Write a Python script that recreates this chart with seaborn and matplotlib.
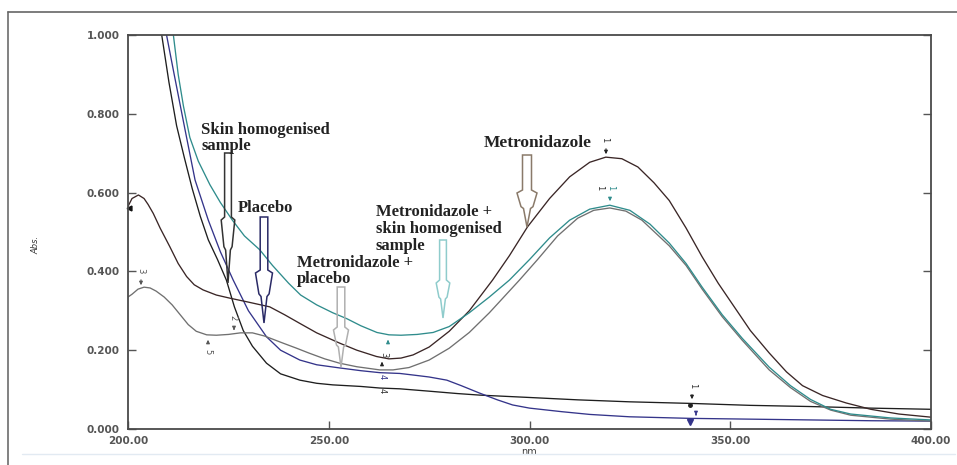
import matplotlib
matplotlib.use("Agg")
import matplotlib.pyplot as plt
import seaborn as sns
import pandas as pd
from matplotlib.patches import Polygon
from matplotlib.lines import Line2D

# ---------------- data ----------------
metro_nm = [200, 201, 202.6, 204, 205, 206.3, 208, 210.4, 212.5, 214.6, 216.5, 218.7, 222,
            225.4, 230, 235.3, 239, 242.8, 247, 252.7, 257, 261.9, 265, 268, 271, 275, 280,
            285, 290.8, 295, 299.5, 305, 310, 315, 319, 323, 327, 331, 334.8, 339, 343, 347,
            351, 355, 359.7, 364, 368, 373, 378.9, 385, 392, 400]
metro_abs = [0.565, 0.585, 0.594, 0.585, 0.57, 0.547, 0.51, 0.463, 0.42, 0.387, 0.366, 0.353,
             0.34, 0.332, 0.322, 0.31, 0.29, 0.268, 0.244, 0.218, 0.2, 0.184, 0.178, 0.18,
             0.188, 0.208, 0.248, 0.30, 0.378, 0.44, 0.513, 0.585, 0.64, 0.677, 0.69, 0.686,
             0.665, 0.625, 0.58, 0.51, 0.437, 0.37, 0.31, 0.25, 0.193, 0.145, 0.11, 0.085,
             0.066, 0.05, 0.038, 0.03]

metskin_nm = [210.3, 211.3, 212.5, 213.8, 215.4, 217.5, 220.4, 223, 226, 229, 232.8, 236, 240,
              243, 247, 251, 254.5, 258, 262, 265, 268, 272, 276, 280, 285, 290, 295, 300,
              305, 310, 315, 320, 325, 330, 334.8, 339, 343, 348, 353, 359.7, 365, 370, 375,
              380, 390, 400]
metskin_abs = [1.06, 1.0, 0.9, 0.82, 0.74, 0.68, 0.62, 0.575, 0.53, 0.49, 0.455, 0.415, 0.37,
               0.34, 0.315, 0.295, 0.28, 0.262, 0.245, 0.239, 0.238, 0.24, 0.245, 0.26, 0.295,
               0.335, 0.378, 0.43, 0.485, 0.53, 0.558, 0.568, 0.555, 0.52, 0.472, 0.42, 0.36,
               0.29, 0.23, 0.157, 0.11, 0.075, 0.05, 0.038, 0.028, 0.023]

metplac_nm = [200, 201, 202.5, 204, 205.5, 207, 209, 211, 213, 215, 217, 219.6, 222, 225, 228,
              231, 234, 238.6, 242, 245, 249, 252.7, 257, 262.7, 266, 270, 275, 280, 285, 290,
              297.5, 302, 307, 312, 316, 320, 324, 328, 334.8, 339, 343, 348, 353, 359.7, 365,
              370, 375, 380, 390, 400]
metplac_abs = [0.335, 0.342, 0.355, 0.36, 0.358, 0.35, 0.335, 0.315, 0.29, 0.265, 0.248, 0.239,
               0.238, 0.24, 0.244, 0.244, 0.236, 0.218, 0.205, 0.193, 0.178, 0.167, 0.158,
               0.15, 0.15, 0.156, 0.175, 0.205, 0.245, 0.295, 0.378, 0.43, 0.49, 0.535, 0.555,
               0.561, 0.553, 0.53, 0.465, 0.415, 0.355, 0.285, 0.225, 0.15, 0.105, 0.07, 0.048,
               0.035, 0.025, 0.02]

skin_nm = [207.6, 208.4, 210.2, 212.1, 214, 216, 218, 220, 222.3, 224.5, 226.5, 228.7, 231,
           234.5, 238, 242.8, 247, 251, 258, 262.7, 267.7, 275, 282, 287.6, 300, 312, 324.9,
           340, 355, 370, 385, 400]
skin_abs = [1.05, 1.0, 0.88, 0.77, 0.69, 0.61, 0.54, 0.48, 0.43, 0.378, 0.31, 0.25, 0.21,
            0.167, 0.14, 0.124, 0.116, 0.112, 0.108, 0.104, 0.102, 0.096, 0.09, 0.086, 0.08,
            0.074, 0.069, 0.065, 0.06, 0.057, 0.053, 0.05]

placebo_nm = [208.8, 209.6, 211.5, 214.2, 216.7, 220, 223, 226.2, 230, 234.5, 238, 242.8, 247,
              252.7, 258, 262.7, 267.7, 271, 275, 279.4, 283, 287.6, 292, 295.8, 300, 308,
              315, 324.9, 340, 355, 370, 385, 400]
placebo_abs = [1.05, 1.0, 0.9, 0.76, 0.632, 0.53, 0.45, 0.378, 0.30, 0.234, 0.2, 0.175, 0.163,
               0.155, 0.148, 0.143, 0.141, 0.137, 0.132, 0.124, 0.11, 0.091, 0.074, 0.061,
               0.053, 0.044, 0.037, 0.031, 0.027, 0.025, 0.023, 0.021, 0.02]

x_ticks = [200, 250, 300, 350, 400]
x_tick_labels = ["200.00", "250.00", "300.00", "350.00", "400.00"]
y_ticks = [0.0, 0.2, 0.4, 0.6, 0.8, 1.0]
y_tick_labels = ["0.000", "0.200", "0.400", "0.600", "0.800", "1.000"]

series = [
    ("Skin homogenised sample", skin_nm, skin_abs, "#1e1e1e"),
    ("Placebo", placebo_nm, placebo_abs, "#34348a"),
    ("Metronidazole + placebo", metplac_nm, metplac_abs, "#707070"),
    ("Metronidazole", metro_nm, metro_abs, "#3a2626"),
    ("Metronidazole + skin homogenised sample", metskin_nm, metskin_abs, "#2f8c8c"),
]

# ---------------- figure ----------------
W, H = 957, 465
sns.set_style("white")
plt.rcParams['font.family'] = ['DejaVu Sans']

fig = plt.figure(figsize=(W / 100, H / 100), dpi=100)
fig.patch.set_facecolor("white")
ax = fig.add_axes([128 / W, 1 - 429 / H, (931 - 128) / W, (429 - 35) / H])

for name, xs, ys, col in series:
    df = pd.DataFrame({"nm": xs, "Abs.": ys})
    sns.lineplot(data=df, x="nm", y="Abs.", ax=ax, color=col, lw=0.95,
                 sort=False, estimator=None, legend=False)

ax.set_xlim(200, 400)
ax.set_ylim(0, 1)
ax.set_xticks(x_ticks)
ax.set_xticklabels(x_tick_labels)
ax.set_yticks(y_ticks)
ax.set_yticklabels(y_tick_labels)
ax.tick_params(axis="both", direction="in", length=6, width=1.0, color="#555555",
               labelsize=7.5, labelcolor="#555555")
ax.tick_params(axis="y", left=True, right=True, pad=6)
ax.tick_params(axis="x", bottom=True, top=False, pad=5)
for lab in ax.get_xticklabels() + ax.get_yticklabels():
    lab.set_fontweight("bold")
for sp in ax.spines.values():
    sp.set_color("#4a4a4a")
    sp.set_linewidth(1.3)
ax.set_xlabel("nm", fontsize=7, color="#444444", labelpad=1)
ax.set_ylabel("")
fig.text(36 / W, 1 - 245 / H, "Abs.", rotation=90, fontsize=6, color="#333333",
         ha="center", va="center", fontstyle="italic")

# outer frame lines
fig.add_artist(Line2D([8 / W, 8 / W], [1 - 12 / H, 0], color="#777777", lw=1.3))
fig.add_artist(Line2D([8 / W, 1], [1 - 12 / H, 1 - 12 / H], color="#666666", lw=1.2))
fig.add_artist(Line2D([22 / W, 955 / W], [1 - 454 / H, 1 - 454 / H], color="#e2eaf2", lw=1.0))


def fp(x, y):
    return (x / W, 1 - y / H)


def block_arrow(cx, top, y1, tip, s, h, col):
    pts = [(cx - s, top), (cx + s, top), (cx + s, y1), (cx + h, y1 + 3),
           (cx + h * 0.6, y1 + (tip - y1) * 0.45), (cx + h * 0.35, y1 + (tip - y1) * 0.5),
           (cx, tip), (cx - h * 0.35, y1 + (tip - y1) * 0.5),
           (cx - h * 0.6, y1 + (tip - y1) * 0.45), (cx - h, y1 + 3), (cx - s, y1)]
    fig.add_artist(Polygon([fp(*p) for p in pts], closed=True, fill=False,
                           edgecolor=col, lw=1.1, transform=fig.transFigure))


block_arrow(228, 153, 217, 283, 3.4, 6.8, "#333333")
block_arrow(264, 217, 270, 323, 3.8, 8.5, "#2a2a66")
block_arrow(341, 287, 327, 367, 3.8, 7.5, "#b0b0b0")
block_arrow(443, 240, 280, 318, 3.4, 6.8, "#8fcccc")
block_arrow(527, 155, 190, 227, 4.5, 10, "#8a7a6a")

lab_kw = dict(fontsize=12, fontweight="bold", color="#222222",
              family=["Liberation Serif", "DejaVu Serif"], ha="left", va="center",
              linespacing=1.05)
fig.text(*fp(201, 138), "Skin homogenised\nsample", **lab_kw)
fig.text(*fp(238, 208), "Placebo", **lab_kw)
fig.text(*fp(297, 271), "Metronidazole +\nplacebo", **lab_kw)
fig.text(*fp(376, 229), "Metronidazole +\nskin homogenised\nsample", **lab_kw)
fig.text(*fp(484, 143), "Metronidazole", fontsize=12.5,
         **{k: v for k, v in lab_kw.items() if k != "fontsize"})


def tag(x, y, txt, col="#333333"):
    fig.text(*fp(x, y), txt, fontsize=6, rotation=270, color=col, ha="center", va="center")


def small_arrow(x, y0, y1, col="#222222"):
    ax.annotate("", xy=(x, H - y1), xytext=(x, H - y0), xycoords="figure pixels",
                textcoords="figure pixels",
                arrowprops=dict(arrowstyle="-|>", color=col, lw=0.8, mutation_scale=5))


# peak / point tags
tag(605, 140, "1"); small_arrow(606, 146, 157)
tag(600, 188, "1"); tag(611, 188, "1", "#2f8c8c"); small_arrow(610, 195, 204, "#2f8c8c")
tag(141, 271, "3", "#555555"); small_arrow(141, 277, 288, "#555555")
tag(233, 318, "2", "#555555"); small_arrow(234, 326, 333, "#555555")
tag(208, 352, "5", "#555555"); small_arrow(208, 346, 337, "#555555")
small_arrow(388, 345, 337, "#2f8c8c")
tag(384, 355, "3")
small_arrow(382, 367, 359, "#222222")
tag(382, 377, "4", "#34348a")
tag(382, 391, "4")
tag(693, 386, "1"); small_arrow(692, 392, 402)
small_arrow(696, 412, 418, "#34348a")
ax.plot([340], [0.06], marker="o", ms=2.5, color="#222222")
ax.plot([340], [0.018], marker="v", ms=4, color="#34348a")
ax.plot([200.3], [0.56], marker="<", ms=3.5, color="#111111", clip_on=False)

fig.savefig("out.png", dpi=100)
